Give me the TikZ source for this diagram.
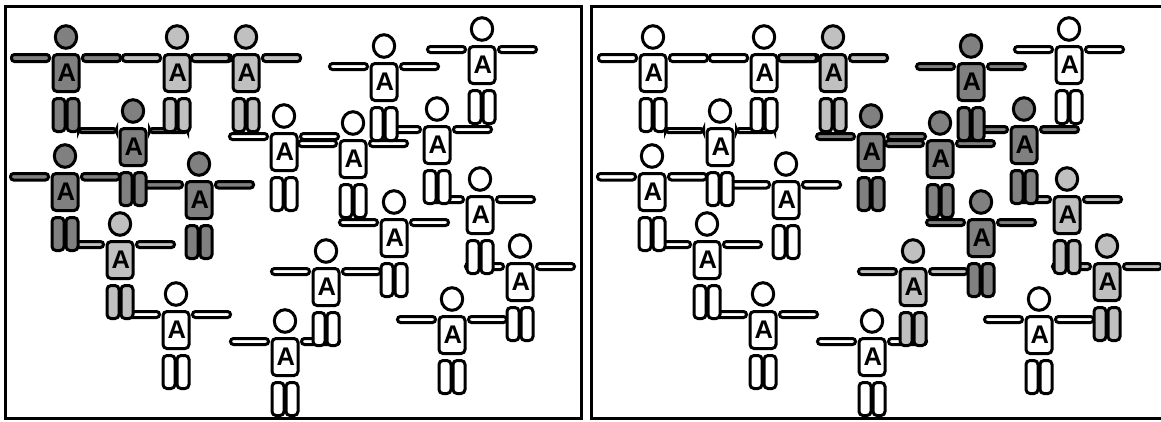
\documentclass[tikz,border=0pt]{standalone}
\usepackage{fontspec}
\setmainfont{Liberation Sans}
\definecolor{gdark}{RGB}{128,128,128}
\definecolor{glight}{RGB}{192,192,192}
\tikzset{
  part/.style={draw=black, line width=3pt},
  letter/.style={inner sep=0pt, font=\fontsize{25.5}{25.5}\selectfont\bfseries},
  frame/.style={draw=black, line width=3.2pt}
}
% #1 cx, #2 body top, #3 fill, #4 arm outer thickness
\newcommand{\person}[4]{%
  \begin{scope}[shift={(#1,#2)}]
    \pgfmathsetmacro{\armb}{#4-1.5}
    \draw[part, fill=#3, rounded corners=3pt] (-54.5,1.5) rectangle (-16.5,\armb);
    \draw[part, fill=#3, rounded corners=3pt] (16.5,1.5) rectangle (54.5,\armb);
    \draw[part, fill=#3, rounded corners=4pt] (-13,45.5) rectangle (-1,78.5);
    \draw[part, fill=#3, rounded corners=4pt] (1,45.5) rectangle (13,78.5);
    \draw[part, fill=#3, rounded corners=4pt] (-13,1.5) rectangle (13,38.5);
    \draw[part, fill=#3] (0,-16) ellipse [x radius=10.7, y radius=11.3];
    \node[letter] at (0.8,19.5) {A};
  \end{scope}}
% whole group, #1 = x offset
\newcommand{\crowd}[1]{%
  \begin{scope}[shift={(#1,0)}]
    \person{285}{337}{\cP}{9}%
    \person{452}{315}{\cS}{9}%
    \person{176}{310}{\cO}{9}%
    \person{326}{267}{\cQ}{9}%
    \person{520}{262}{\cR}{9}%
    \person{120}{240}{\cN}{9}%
    \person{394}{218}{\cM}{9}%
    \person{480}{195}{\cL}{9}%
    \person{199}{180}{\cF}{9.5}%
    \person{65}{172}{\cE}{9.5}%
    \person{353}{139}{\cJ}{9}%
    \person{284}{132}{\cG}{9}%
    \person{133}{127}{\cD}{7}%
    \person{437}{125}{\cK}{9}%
    \person{384}{62}{\cH}{9}%
    \person{66}{53}{\cA}{10}%
    \person{177}{53}{\cB}{10}%
    \person{246}{53}{\cC}{10}%
    \person{482}{45}{\cI}{9}%
  \end{scope}}
\begin{document}
\begin{tikzpicture}[x=1pt, y=-1pt]
  \useasboundingbox (0,0) rectangle (1161,421);
  \fill[white] (0,0) rectangle (1161,421);
  % left panel
  \draw[frame] (5.5,6.3) rectangle (581.7,418.7);
  \def\cA{gdark}\def\cB{glight}\def\cC{glight}\def\cD{gdark}\def\cE{gdark}%
  \def\cF{gdark}\def\cG{white}\def\cH{white}\def\cI{white}\def\cJ{white}%
  \def\cK{white}\def\cL{white}\def\cM{white}\def\cN{glight}\def\cO{white}%
  \def\cP{white}\def\cQ{white}\def\cR{white}\def\cS{white}%
  \crowd{0}
  % right panel
  \draw[frame] (1165,6.3) -- (591.7,6.3) -- (591.7,418.7) -- (1165,418.7);
  \def\cA{white}\def\cB{white}\def\cC{glight}\def\cD{white}\def\cE{white}%
  \def\cF{white}\def\cG{gdark}\def\cH{gdark}\def\cI{white}\def\cJ{gdark}%
  \def\cK{gdark}\def\cL{glight}\def\cM{gdark}\def\cN{white}\def\cO{white}%
  \def\cP{white}\def\cQ{glight}\def\cR{glight}\def\cS{white}%
  \crowd{587}
\end{tikzpicture}
\end{document}
